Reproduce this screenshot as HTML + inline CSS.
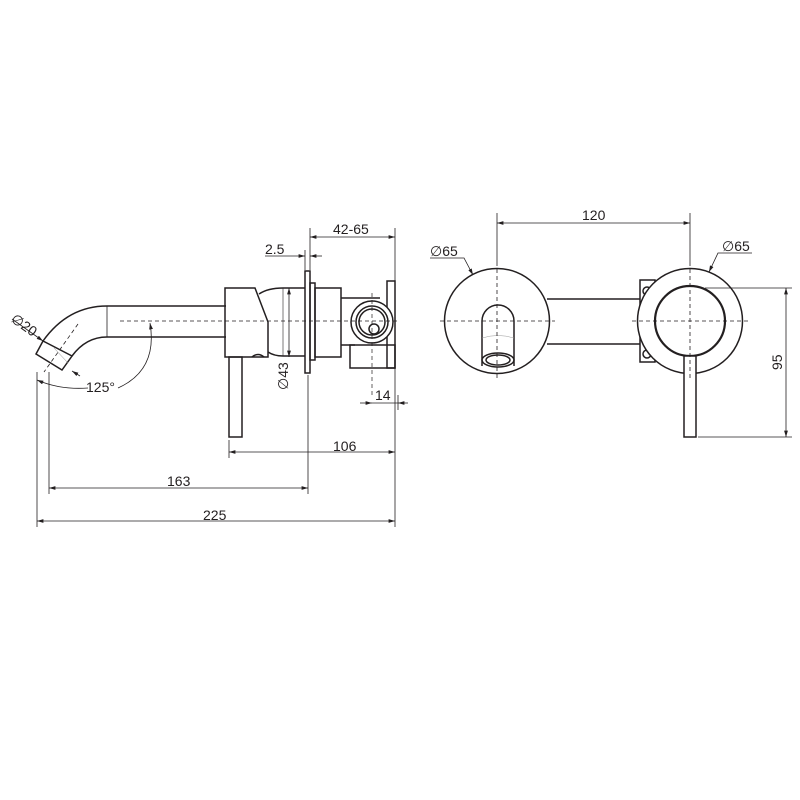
<!DOCTYPE html>
<html><head><meta charset="utf-8"><style>
html,body{margin:0;padding:0;background:#fff;}
svg{display:block;}
text{font-family:"Liberation Sans",sans-serif;font-size:14px;fill:#231f20;}
</style></head><body>
<svg width="800" height="800" viewBox="0 0 800 800" xmlns="http://www.w3.org/2000/svg">
<defs>
<marker id="a" viewBox="0 0 10 6" refX="10" refY="3" markerWidth="8" markerHeight="5" orient="auto-start-reverse"><path d="M0,0 L10,3 L0,6z" fill="#231f20"/></marker>
</defs>
<g fill="none" stroke="#231f20" stroke-width="1.5">
<path d="M226,306 L107,306 Q68,306 43,341"/>
<path d="M226,337 L107,337 Q86,337 72,356"/>
<line x1="107" y1="306" x2="107" y2="337" stroke-width="0.8"/>
<polygon points="43,341 36,354 62,370 72,356"/>
<line x1="54" y1="348" x2="68" y2="363" stroke-width="0.5" stroke="#888"/>
<polygon points="225,288 255,288 268,322 268,357 225,357"/>
<path d="M259,294 Q268,288 283,288 L305,288"/>
<path d="M268,352 Q274,356 283,356 L305,356"/>
<line x1="283" y1="288" x2="283" y2="356" stroke-width="0.6"/>
<rect x="305" y="271" width="5" height="102"/>
<rect x="310" y="283" width="5" height="77"/>
<rect x="315" y="288" width="26" height="69"/>
<path d="M341,298 L380,298 M341,345 L355,345"/>
<rect x="350" y="345" width="45" height="23"/>
<rect x="387" y="281" width="8" height="87"/>
<circle cx="372" cy="322" r="21" fill="#fff"/>
<circle cx="372" cy="322" r="16"/>
<circle cx="372" cy="322" r="13"/>
<circle cx="374" cy="329" r="5"/>
<path d="M252,357 Q258,352 264,357" />
<rect x="229" y="357" width="13" height="80"/>
<line x1="120" y1="321" x2="400" y2="321" stroke-width="0.8" stroke-dasharray="4,3"/>
<line x1="78" y1="324" x2="44" y2="372" stroke-width="0.8" stroke-dasharray="4,3"/>
<line x1="372" y1="293" x2="372" y2="395" stroke-width="0.7" stroke-dasharray="4,3"/>
<g stroke-width="0.8">
<line x1="37" y1="372" x2="37" y2="527"/>
<line x1="49" y1="372" x2="49" y2="494"/>
<line x1="308" y1="375" x2="308" y2="494"/>
<line x1="395" y1="228" x2="395" y2="527"/>
<line x1="229" y1="440" x2="229" y2="458"/>
<line x1="310" y1="228" x2="310" y2="270"/>
<line x1="305" y1="250" x2="305" y2="270"/>
<line x1="398" y1="395" x2="398" y2="410"/>
<line x1="37" y1="521" x2="395" y2="521" marker-start="url(#a)" marker-end="url(#a)"/>
<line x1="49" y1="488" x2="308" y2="488" marker-start="url(#a)" marker-end="url(#a)"/>
<line x1="229" y1="452" x2="395" y2="452" marker-start="url(#a)" marker-end="url(#a)"/>
<line x1="310" y1="237" x2="395" y2="237" marker-start="url(#a)" marker-end="url(#a)"/>
<line x1="265" y1="256" x2="305" y2="256" marker-end="url(#a)"/>
<line x1="322" y1="256" x2="310" y2="256" marker-end="url(#a)"/>
<line x1="289" y1="288" x2="289" y2="357" marker-start="url(#a)" marker-end="url(#a)"/>
<line x1="360" y1="403" x2="372" y2="403" marker-end="url(#a)"/>
<line x1="408" y1="403" x2="398" y2="403" marker-end="url(#a)"/>
<line x1="372" y1="403" x2="398" y2="403"/>
<line x1="12" y1="319" x2="43" y2="341" marker-end="url(#a)"/>
<line x1="80" y1="376" x2="72" y2="371" marker-end="url(#a)"/>
<path d="M37,380 Q60,390 88,388" marker-start="url(#a)"/>
<path d="M118,388 Q158,370 150,323" marker-end="url(#a)"/>
</g>
<rect x="640" y="280" width="15" height="82"/>
<circle cx="647" cy="291" r="4"/>
<circle cx="647" cy="354" r="4"/>
<path d="M547,299 L640,299 M547,344 L640,344"/>
<circle cx="497" cy="321" r="52.5" fill="#fff"/>
<circle cx="690" cy="321" r="52.5" fill="#fff"/>
<circle cx="690" cy="321" r="35" stroke-width="2.2"/>
<path d="M482,366 L482,321 A16,16 0 0 1 514,321 L514,366"/>
<ellipse cx="498" cy="360" rx="16" ry="7"/>
<ellipse cx="498" cy="360" rx="12" ry="5"/>
<path d="M482,338 Q498,333 514,338" stroke-width="0.5" stroke="#999"/>
<rect x="684" y="356" width="12" height="81" fill="#fff"/>
<g stroke-width="0.8" stroke-dasharray="4,3">
<line x1="440" y1="321" x2="555" y2="321"/>
<line x1="632" y1="321" x2="748" y2="321"/>
<line x1="497" y1="262" x2="497" y2="378"/>
<line x1="690" y1="262" x2="690" y2="380"/>
</g>
<g stroke-width="0.8">
<line x1="497" y1="213" x2="497" y2="262"/>
<line x1="690" y1="213" x2="690" y2="262"/>
<line x1="497" y1="223" x2="690" y2="223" marker-start="url(#a)" marker-end="url(#a)"/>
<line x1="705" y1="288" x2="792" y2="288"/>
<line x1="698" y1="437" x2="792" y2="437"/>
<line x1="786" y1="288" x2="786" y2="437" marker-start="url(#a)" marker-end="url(#a)"/>
<path d="M430,258 L464,258 L473,275" marker-end="url(#a)"/>
<path d="M752,253 L718,253 L709,272" marker-end="url(#a)"/>
</g>
</g>
<text x="333" y="234">42-65</text>
<text x="265" y="254">2.5</text>
<text x="375" y="400">14</text>
<text x="333" y="451">106</text>
<text x="167" y="486">163</text>
<text x="203" y="520">225</text>
<text x="86" y="392">125°</text>
<text transform="translate(10,321) rotate(35)">∅20</text>
<text transform="translate(288,390) rotate(-90)">∅43</text>
<text x="582" y="220">120</text>
<text x="430" y="256">∅65</text>
<text x="722" y="251">∅65</text>
<text transform="translate(782,370) rotate(-90)">95</text>
</svg>
</body></html>
